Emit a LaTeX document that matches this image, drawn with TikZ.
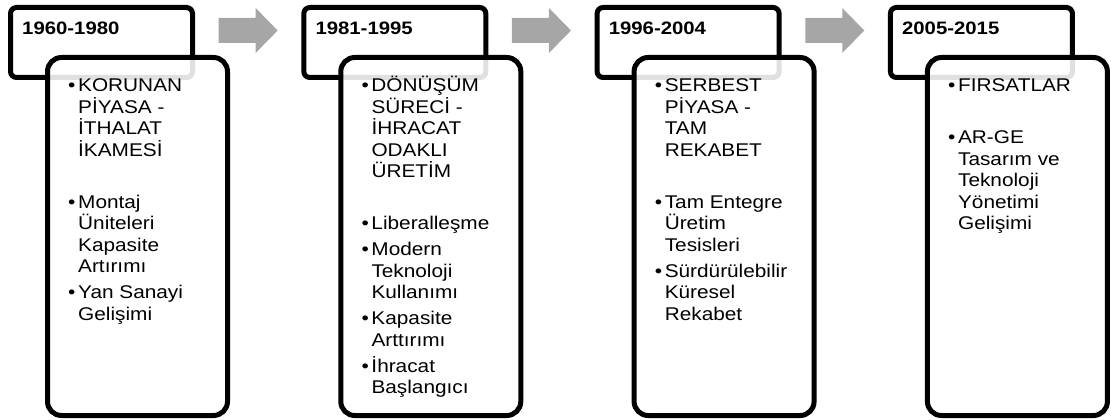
\documentclass[tikz,border=0pt]{standalone}
\usepackage{fontspec}
\setmainfont{Liberation Sans}[FakeStretch=1.13]
\usetikzlibrary{calc}
\definecolor{arrowgray}{HTML}{A6A6A6}
\newcommand{\bitem}{\par\noindent\hangindent=10pt\hangafter=1\makebox[10pt][l]{•}\ignorespaces}
\newcommand{\bgap}[1]{\par\vspace{#1}}
\tikzset{
  headbox/.style={draw, line width=5pt, rounded corners=6pt, fill=white,
    minimum width=182pt, minimum height=70pt, inner sep=0pt, outer sep=0pt},
  bodybox/.style={draw, line width=5pt, rounded corners=14pt, fill=white, fill opacity=0.88,
    minimum width=180pt, minimum height=358pt, inner sep=0pt, outer sep=0pt},
  yeartxt/.style={anchor=base west, inner sep=0pt, font=\fontsize{18}{22}\selectfont\bfseries},
  itemtxt/.style={anchor=base west, inner sep=0pt, font=\fontsize{18.4}{21.5}\selectfont}
}
\begin{document}
\begin{tikzpicture}[x=1pt,y=-1pt]
  \useasboundingbox (0,0) rectangle (1111,420);
  \foreach \i/\yr in {1/1960-1980,2/1981-1995,3/1996-2004,4/2005-2015}{ % one column per period
    \node[headbox] (hd\i) at ({7+293.3*(\i-1)+94.5},42.5) {};
    \node[bodybox] (bd\i) at ({7+293.3*(\i-1)+130.5},236.5) {};
    \node[yeartxt] (yr\i) at ($(hd\i.north west)+(11.5,27.5)$) {\yr};
  }
  \foreach \i/\j in {1/2,2/3,3/4}{ % gray arrows between the headers
    \coordinate (m\i) at ($(hd\i.east)!0.5!(hd\j.west)$);
    \fill[arrowgray] ($(m\i)+(-29.5,-24.5)$) -- ++(37,0) -- ++(0,-10) -- ++(22,22.5)
      -- ++(-22,22.5) -- ++(0,-10) -- ++(-37,0) -- cycle;
  }
  \node[itemtxt] (it1) at ($(bd1.north west)+(20.5,34.5)$) {\parbox[t]{150pt}{\raggedright
    \bitem KORUNAN\newline PİYASA -\newline İTHALAT\newline İKAMESİ
    \bgap{30.5pt}\bitem Montaj\newline Üniteleri\newline Kapasite\newline Artırımı
    \bgap{4.5pt}\bitem Yan Sanayi\newline Gelişimi}};
  \node[itemtxt] (it2) at ($(bd2.north west)+(20.5,34.5)$) {\parbox[t]{150pt}{\raggedright
    \bitem DÖNÜŞÜM\newline SÜRECİ -\newline İHRACAT\newline ODAKLI\newline ÜRETİM
    \bgap{30.5pt}\bitem Liberalleşme
    \bgap{4.5pt}\bitem Modern\newline Teknoloji\newline Kullanımı
    \bgap{4.5pt}\bitem Kapasite\newline Arttırımı
    \bgap{4.5pt}\bitem İhracat\newline Başlangıcı}};
  \node[itemtxt] (it3) at ($(bd3.north west)+(20.5,34.5)$) {\parbox[t]{150pt}{\raggedright
    \bitem SERBEST\newline PİYASA -\newline TAM\newline REKABET
    \bgap{30.5pt}\bitem Tam Entegre\newline Üretim\newline Tesisleri
    \bgap{4.5pt}\bitem Sürdürülebilir\newline Küresel\newline Rekabet}};
  \node[itemtxt] (it4) at ($(bd4.north west)+(20.5,34.5)$) {\parbox[t]{150pt}{\raggedright
    \bitem FIRSATLAR
    \bgap{30.5pt}\bitem AR-GE\newline Tasarım ve\newline Teknoloji\newline Yönetimi\newline Gelişimi}};
\end{tikzpicture}
\end{document}
